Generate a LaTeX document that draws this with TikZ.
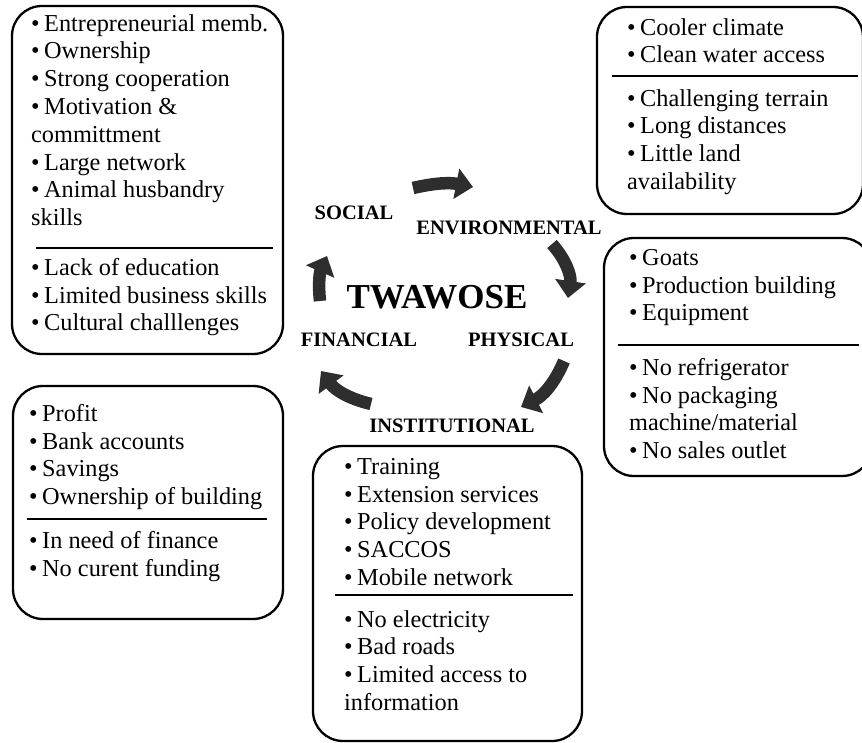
\documentclass[tikz,border=0pt]{standalone}
\usepackage{fontspec}
\setmainfont{Liberation Serif}
\usetikzlibrary{arrows.meta}

\newcommand{\bul}{\textbullet\hspace{4.5pt}}

\begin{document}
\begin{tikzpicture}[
  x=1pt, y=-1pt,
  font=\fontsize{24.3}{27.8}\selectfont,
  box/.style={draw, line width=2.3pt, rounded corners=30pt, inner sep=0pt},
  items/.style={anchor=north west, inner sep=0pt, align=left},
  title/.style={font=\fontsize{20.5}{24}\selectfont\bfseries, inner sep=0pt},
  sepline/.style={line width=1.2pt},
  arr/.style={line width=12.5pt, draw=black!82, -{Triangle[length=17pt, width=30pt]}},
]
\useasboundingbox (0,0) rectangle (862,743);
% social: plus / minus
\node[box, minimum width=271pt, minimum height=348pt] (soc) at (147.5,180) {};
\node[items] (socplus) at (31,14) {\bul Entrepreneurial memb.\\ \bul Ownership\\ \bul Strong cooperation\\ \bul Motivation \&\\ committment\\ \bul Large network\\ \bul Animal husbandry\\ skills};
\draw[sepline] (36,248) -- (273,248);
\node[items] (socmin) at (31,258) {\bul Lack of education\\ \bul Limited business skills\\ \bul Cultural challlenges};
% environmental
\node[box, minimum width=266pt, minimum height=207pt] (env) at (730,110.5) {};
\node[items] (envplus) at (627,18) {\bul Cooler climate\\ \bul Clean water access};
\draw[sepline] (612,76) -- (858,76);
\node[items] (envmin) at (627,89) {\bul Challenging terrain\\ \bul Long distances\\ \bul Little land\\ availability};
% physical -- rechts afgesneden
\node[box, minimum width=268pt, minimum height=238pt] (phy) at (738,357) {};
\node[items] (phyplus) at (629,249) {\bul Goats\\ \bul Production building\\ \bul Equipment};
\draw[sepline] (618,345) -- (859,345);
\node[items] (phymin) at (629,358) {\bul No refrigerator\\ \bul No packaging\\ machine/material\\ \bul No sales outlet};
% financial
\node[box, minimum width=270pt, minimum height=233pt] (fin) at (148,502.5) {};
\node[items] (finplus) at (29,404) {\bul Profit\\ \bul Bank accounts\\ \bul Savings\\ \bul Ownership of building};
\draw[sepline] (27,519) -- (267,519);
\node[items] (finmin) at (29,531) {\bul In need of finance\\ \bul No curent funding};
% institutional
\node[box, minimum width=269pt, minimum height=295pt] (ins) at (447.5,593.5) {};
\node[items] (insplus) at (344,458) {\bul Training\\ \bul Extension services\\ \bul Policy development\\ \bul SACCOS\\ \bul Mobile network};
\draw[sepline] (335,595) -- (573,595);
\node[items] (insmin) at (344,610) {\bul No electricity\\ \bul Bad roads\\ \bul Limited access to\\ information};
% midden: kapitalen rond TWAWOSE
\node[font=\fontsize{35}{40}\selectfont\bfseries] (twa) at (437,297) {TWAWOSE};
\node[title] (lsoc) at (354,213) {SOCIAL};
\node[title] (lenv) at (509,228) {ENVIRONMENTAL};
\node[title] (lphy) at (521,340) {PHYSICAL};
\node[title] (lins) at (452,426) {INSTITUTIONAL};
\node[title] (lfin) at (359,340) {FINANCIAL};
% kringloop van pijlen
\coordinate (a1) at (413,188); \coordinate (b1) at (473,187);
\coordinate (a2) at (552,244); \coordinate (b2) at (568,298);
\coordinate (a3) at (564,361); \coordinate (b3) at (521,407);
\coordinate (a4) at (371,404); \coordinate (b4) at (321,371);
\coordinate (a5) at (320,301); \coordinate (b5) at (327,256);
\draw[arr] (a1) to[bend left=12] (b1);
\draw[arr] (a2) to[bend left=25] (b2);
\draw[arr] (a3) to[bend left=20] (b3);
\draw[arr] (a4) to[bend left=20] (b4);
\draw[arr] (a5) to[bend left=15] (b5);
\end{tikzpicture}
\end{document}
